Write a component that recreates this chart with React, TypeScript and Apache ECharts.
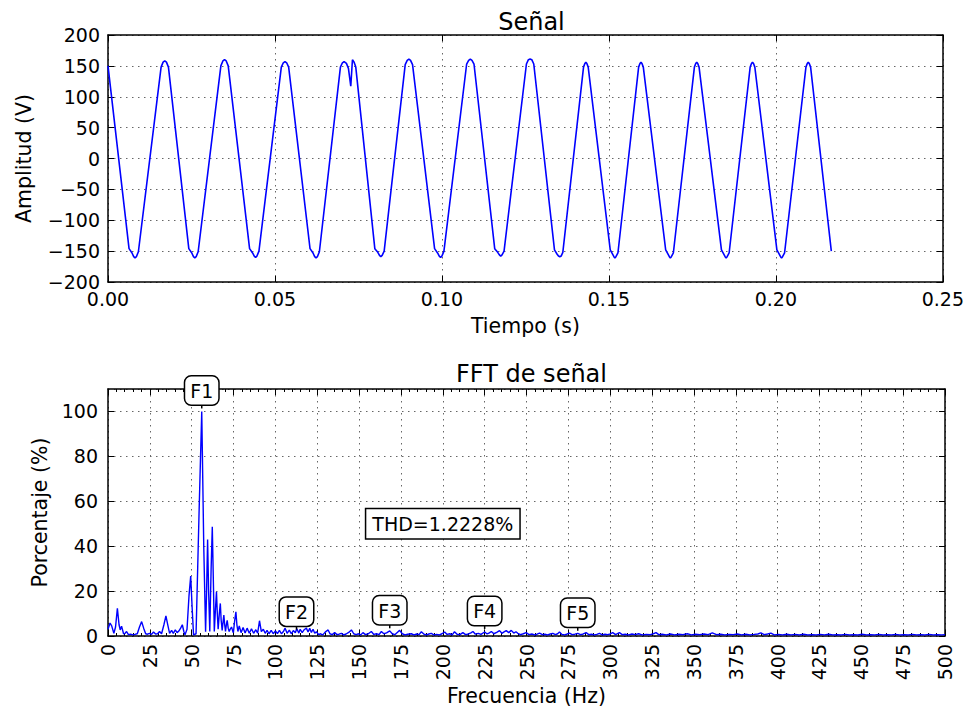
import { useEffect, useRef } from 'react';
import * as echarts from 'echarts';

const FONT = 'DejaVu Sans';

// ---- Top chart: signal (time s, amplitude V) ----
const signalPoints: [number, number][] = [
  [0.0, 150],
  [0.0063, -146], [0.0072, -153], [0.0077, -159], [0.0081, -161], [0.0085, -159], [0.0091, -151],
  [0.0159, 148], [0.0165, 156], [0.017, 158], [0.0175, 156], [0.0181, 148],
  [0.0242, -146], [0.0251, -153], [0.0256, -159], [0.026, -161], [0.0264, -159], [0.027, -151],
  [0.0338, 150], [0.0344, 158], [0.0349, 160], [0.0354, 158], [0.036, 150],
  [0.0424, -146], [0.0433, -153], [0.0438, -158], [0.0442, -160], [0.0446, -158], [0.0452, -150],
  [0.0519, 148], [0.0525, 155], [0.053, 157], [0.0535, 155], [0.0541, 148],
  [0.0605, -146], [0.0614, -153], [0.0619, -159], [0.0623, -161], [0.0627, -159], [0.0633, -151],
  [0.0696, 148], [0.0702, 155], [0.0707, 157], [0.0714, 154], [0.072, 146], [0.0727, 117], [0.0732, 160], [0.0737, 156], [0.0742, 148],
  [0.0799, -146], [0.0808, -152], [0.0813, -157], [0.0817, -159], [0.0821, -157], [0.0827, -150],
  [0.089, 152], [0.0896, 159], [0.0901, 161], [0.0906, 159], [0.0912, 152],
  [0.0978, -146], [0.0987, -153], [0.0992, -158], [0.0996, -160], [0.1, -158], [0.1006, -150],
  [0.1074, 153], [0.108, 159], [0.1085, 161], [0.109, 159], [0.1096, 153],
  [0.1158, -146], [0.1167, -152], [0.1172, -156], [0.1176, -158], [0.118, -156], [0.1186, -150],
  [0.1253, 153], [0.1259, 160], [0.1264, 161], [0.1269, 160], [0.1275, 153],
  [0.1337, -148], [0.1345, -155], [0.1349, -158], [0.1353, -159], [0.1357, -158], [0.1362, -152],
  [0.1424, 148], [0.1428, 154], [0.1431, 156], [0.1434, 154], [0.1438, 148],
  [0.1504, -148], [0.1511, -155], [0.1515, -159], [0.1518, -161], [0.1521, -159], [0.1527, -153],
  [0.1589, 148], [0.1593, 154], [0.1596, 156], [0.1599, 154], [0.1603, 148],
  [0.167, -148], [0.1677, -155], [0.1681, -159], [0.1684, -161], [0.1687, -159], [0.1693, -153],
  [0.1756, 148], [0.176, 154], [0.1763, 156], [0.1766, 154], [0.177, 148],
  [0.1837, -148], [0.1844, -155], [0.1848, -159], [0.1851, -161], [0.1854, -159], [0.186, -153],
  [0.1923, 148], [0.1927, 154], [0.193, 156], [0.1933, 154], [0.1937, 148],
  [0.2003, -148], [0.201, -155], [0.2014, -159], [0.2017, -161], [0.202, -159], [0.2026, -153],
  [0.209, 148], [0.2094, 154], [0.2097, 156], [0.21, 154], [0.2104, 148],
  [0.2166, -150],
];

// ---- Bottom chart: spectrum (Hz, %) ----
const spectrumPoints: [number, number][] = [
  [0, 3.0], [1.2, 5.8], [2.2, 4.5], [3.5, 1.2], [4.5, 4], [5.6, 12.3], [6.6, 5], [7.3, 2.7], [8.1, 4.4], [9.3, 1.0],
  [10.2, 1.2], [11.1, 2.0], [12.2, 0.6], [13.5, 0.8], [14.8, 0.5], [16.0, 0.7], [17.5, 1.0], [18.8, 4.0], [20.1, 6.4], [21.3, 3.5],
  [22.5, 1.0], [23.6, 0.8], [24.8, 1.2], [26.0, 0.7], [27.2, 1.8], [28.4, 0.9], [29.6, 1.0], [30.8, 2.0], [32.0, 1.0], [33.4, 5.0],
  [34.6, 9.0], [35.7, 5.0], [36.8, 1.2], [38.0, 2.5], [39.0, 1.2], [40.2, 2.7], [41.3, 1.5], [42.3, 2.2], [43.4, 3.5], [44.4, 5.0],
  [45.3, 2.0], [46.0, 0.5], [47.2, 3.0], [48.4, 18], [49.4, 26.7], [50.3, 12], [51.1, 0.5], [52.6, 1.0], [54.4, 55], [56.0, 100],
  [57.2, 40], [58.3, 1.9], [58.9, 20], [59.5, 43], [60.1, 20], [60.8, 2], [61.6, 30], [62.3, 48.6], [63.0, 22], [63.5, 2],
  [64.2, 12], [64.8, 19.7], [65.3, 10], [65.8, 3], [66.5, 10], [67.1, 14.5], [67.6, 7], [68.2, 2.5], [68.7, 6], [69.2, 9.3],
  [69.7, 5], [70.2, 2], [70.7, 5], [71.2, 7], [71.8, 3.5], [72.4, 2], [73.1, 3.2], [73.8, 4], [74.4, 2.5], [74.9, 1.5],
  [75.7, 7], [76.4, 10.8], [77.0, 5], [77.6, 2], [78.4, 4.5], [79.5, 1.5], [80.7, 3.8], [81.9, 1.3], [83.1, 3.5], [84.4, 1.2],
  [85.7, 3.2], [87.0, 1.2], [88.3, 2.8], [89.4, 1.3], [90.5, 6.8], [91.6, 2.0], [92.8, 3.0], [93.9, 1.2], [95.0, 2.5], [96.2, 1.0],
  [97.5, 2.5], [98.7, 1.0], [100.0, 2.2], [101.2, 1.1], [102.4, 2.5], [103.6, 1.0], [104.8, 2.0], [105.8, 3.5], [107.0, 1.2], [108.3, 2.6],
  [109.5, 1.0], [110.7, 2.4], [111.9, 1.5], [112.8, 3.2], [114.0, 1.3], [114.8, 3.0], [116.0, 1.5], [117.2, 2.8], [118.5, 3.5], [119.5, 1.8],
  [120.5, 3.4], [121.5, 1.6], [122.5, 3.0], [123.5, 1.2], [124.5, 1.9], [125.8, 0.6], [127.0, 1.0], [128.3, 0.5], [129.5, 1.5], [130.5, 2.2],
  [131.5, 2.7], [132.6, 1.0], [134.0, 0.6], [135.4, 1.5], [136.8, 0.6], [138.0, 0.8], [139.4, 1.2], [140.8, 0.5], [142.2, 0.9], [143.8, 1.6],
  [145.4, 2.7], [146.8, 1.0], [148.2, 0.6], [149.7, 1.0], [151.0, 0.5], [152.3, 1.5], [153.8, 0.6], [155.5, 1.0], [157.3, 2.0], [158.8, 0.7],
  [160.4, 1.0], [161.9, 0.6], [163.3, 2.0], [164.8, 1.0], [166.4, 1.4], [168.3, 2.3], [169.8, 1.0], [171.3, 0.6], [172.8, 1.6], [174.2, 2.5],
  [175.8, 1.0], [177.4, 0.5], [179.0, 0.8], [181.2, 1.0], [182.8, 0.5], [184.4, 0.9], [185.8, 0.6], [187.2, 1.9], [188.8, 0.8], [190.3, 0.5],
  [191.7, 0.9], [193.1, 1.2], [194.7, 0.5], [196.3, 0.7], [198.0, 0.5], [199.5, 1.0], [201.1, 1.8], [202.6, 0.7], [204.2, 1.0], [205.6, 0.5],
  [207.0, 1.9], [208.5, 0.8], [210.2, 0.6], [212.0, 1.5], [213.6, 0.6], [215.3, 0.9], [216.8, 1.4], [218.0, 2.0], [219.5, 0.8], [221.2, 1.2],
  [222.8, 0.7], [225.0, 1.8], [226.5, 0.9], [227.8, 1.4], [229.0, 2.0], [230.5, 1.0], [232.2, 1.6], [233.9, 2.4], [235.3, 1.2], [236.6, 1.8],
  [237.9, 2.4], [239.4, 1.5], [240.9, 2.5], [242.4, 1.3], [243.7, 1.9], [244.8, 1.2], [246.4, 0.6], [248.1, 1.0], [249.8, 1.5], [251.5, 0.6],
  [253.2, 0.9], [254.8, 0.5], [256.3, 0.8], [257.8, 1.3], [259.5, 0.6], [261.0, 0.8], [262.6, 0.5], [264.2, 0.9], [265.7, 1.2], [267.3, 0.6],
  [268.6, 1.0], [269.7, 1.8], [271.2, 0.7], [272.8, 0.5], [274.3, 0.9], [275.7, 1.3], [277.3, 0.6], [278.9, 0.8], [280.6, 1.2], [282.3, 0.6],
  [283.9, 0.9], [285.6, 1.5], [287.2, 0.6], [288.8, 0.8], [290.5, 0.5], [292.0, 0.7], [293.6, 1.2], [295.3, 0.5], [296.9, 0.8], [298.5, 0.6],
  [300.0, 0.9], [301.5, 1.5], [303.2, 0.6], [305.5, 1.5], [307.2, 0.6], [309.0, 0.8], [311.0, 0.5], [313.0, 0.9], [315.0, 0.6], [317.0, 1.0],
  [319.0, 0.5], [321.5, 0.7], [324.0, 0.6], [325.8, 1.0], [327.4, 1.5], [329.0, 0.6], [331.0, 0.8], [333.5, 0.5], [336.0, 0.9], [338.5, 0.5],
  [341.0, 0.8], [343.5, 0.6], [346.0, 1.0], [348.5, 0.5], [351.0, 0.8], [353.5, 0.6], [356.0, 0.9], [358.5, 0.6], [361.0, 1.4], [363.5, 0.6],
  [366.0, 0.8], [368.5, 0.5], [371.0, 0.7], [373.5, 0.6], [376.0, 0.9], [378.5, 0.5], [381.0, 0.8], [383.5, 0.5], [386.0, 0.7], [388.2, 0.9],
  [390.0, 1.4], [392.0, 0.6], [394.0, 0.9], [396.0, 1.3], [398.0, 0.5], [400.5, 0.7], [403.0, 0.5], [405.5, 0.8], [408.0, 0.5], [410.5, 0.7],
  [413.0, 0.5], [415.5, 0.8], [418.0, 0.5], [420.5, 0.6], [423.0, 0.5], [425.5, 0.7], [428.0, 0.5], [430.5, 0.8], [433.0, 0.5], [435.5, 0.6],
  [438.0, 0.5], [440.5, 0.7], [443.0, 0.5], [445.5, 0.6], [448.0, 0.5], [450.5, 0.8], [453.0, 0.5], [455.5, 0.6], [458.0, 0.5], [460.5, 0.7],
  [463.0, 0.5], [465.5, 0.6], [468.0, 0.5], [470.5, 0.7], [473.0, 0.5], [475.5, 0.6], [478.0, 0.5], [480.5, 0.7], [483.0, 0.5], [485.5, 0.6],
  [488.0, 0.5], [490.5, 0.7], [493.0, 0.5], [495.5, 0.6], [498.0, 0.5], [500, 0.6],
];

const harmonicNames = ['F1', 'F2', 'F3', 'F4', 'F5'];
const harmonicFreqs = [56, 112.6, 168.3, 225, 280.6];
const harmonicPcts = [100, 1.5, 2.1, 1.8, 1.0];

const thdLabel = 'THD=1.2228%';
const thdCoord = [200, 50];

const titles = ['Señal', 'FFT de señal'];
const axisNames = { time: 'Tiempo (s)', amp: 'Amplitud (V)', freq: 'Frecuencia (Hz)', pct: 'Porcentaje (%)' };

const timeRange = { min: 0, max: 0.25, interval: 0.05 };
const ampRange = { min: -200, max: 200, interval: 50 };
const freqRange = { min: 0, max: 500, interval: 25 };
const pctRange = { min: 0, max: 110, interval: 20 };

const minusFmt = (v: number) => String(v).replace('-', '\u2212');

export default function App() {
  const ref = useRef<HTMLDivElement>(null);

  useEffect(() => {
    if (!ref.current) return;
    const chart = echarts.init(ref.current, undefined, { renderer: 'svg' });

    const txt = { color: '#000', fontFamily: FONT, fontSize: 19 };
    const nameTxt = { color: '#000', fontFamily: FONT, fontSize: 20.5 };
    const frameLine = { show: true, onZero: false, lineStyle: { color: '#000', width: 1.5 } };
    const gridLine = { show: true, lineStyle: { color: '#666', width: 1, type: [1.5, 4.5] as any } };
    const tickIn = { show: true, inside: true, length: 6, lineStyle: { color: '#000', width: 1 } };
    const minorIn = { show: true, splitNumber: 5, length: 3, lineStyle: { color: '#000', width: 1 } };

    const grids = [
      { left: 108, top: 35, width: 837, height: 247, containLabel: false },
      { left: 108, top: 389, width: 837, height: 247, containLabel: false },
    ];

    const mainX = (gridIndex: number, r: any, extra: any) => ({
      type: 'value', gridIndex, position: 'bottom', ...r,
      axisLine: frameLine, axisTick: tickIn, splitLine: gridLine,
      nameTextStyle: nameTxt,
      nameLocation: 'middle',
      ...extra,
    });
    const sideX = (gridIndex: number, r: any, minor: boolean) => ({
      type: 'value', gridIndex, position: 'top', ...r,
      axisLine: frameLine, axisTick: tickIn, splitLine: { show: false },
      axisLabel: { show: false },
      minorTick: minor ? minorIn : { show: false },
    });
    const sideY = (gridIndex: number, r: any) => ({
      type: 'value', gridIndex, position: 'right', ...r,
      axisLine: frameLine, axisTick: tickIn, splitLine: { show: false },
      axisLabel: { show: false },
    });

    const option: any = {
      animation: false,
      backgroundColor: '#fff',
      title: [
        { text: titles[0], left: 526.5, top: 5, textAlign: 'center', textStyle: { ...txt, fontSize: 24, fontWeight: 'normal' } },
        { text: titles[1], left: 526.5, top: 357, textAlign: 'center', textStyle: { ...txt, fontSize: 24, fontWeight: 'normal' } },
      ],
      grid: grids,
      xAxis: [
        mainX(0, timeRange, {
          name: axisNames.time, nameGap: 33,
          axisLabel: { ...txt, margin: 7, showMaxLabel: true, showMinLabel: true, formatter: (v: number) => v.toFixed(2) },
        }),
        mainX(1, freqRange, {
          name: axisNames.freq, nameGap: 49,
          minorTick: minorIn,
          axisLabel: { ...txt, margin: 8, rotate: 90, showMaxLabel: true, showMinLabel: true },
        }),
        sideX(0, timeRange, false),
        sideX(1, freqRange, true),
      ],
      yAxis: [
        {
          type: 'value', gridIndex: 0, position: 'left', ...ampRange,
          axisLine: frameLine, axisTick: tickIn, splitLine: gridLine,
          axisLabel: { ...txt, margin: 8, showMaxLabel: true, showMinLabel: true, formatter: minusFmt },
          name: axisNames.amp, nameLocation: 'middle', nameGap: 74, nameTextStyle: nameTxt,
        },
        {
          type: 'value', gridIndex: 1, position: 'left', ...pctRange,
          axisLine: frameLine, axisTick: tickIn, splitLine: gridLine,
          axisLabel: { ...txt, margin: 10, showMaxLabel: false, showMinLabel: true },
          name: axisNames.pct, nameLocation: 'middle', nameGap: 56, nameTextStyle: nameTxt,
        },
        sideY(0, ampRange),
        sideY(1, pctRange),
      ],
      series: [
        {
          type: 'line', xAxisIndex: 0, yAxisIndex: 0, data: signalPoints,
          showSymbol: false, symbol: 'none', lineStyle: { color: '#0000ff', width: 1.6 }, itemStyle: { color: '#0000ff' },
          silent: true,
        },
        {
          type: 'line', xAxisIndex: 1, yAxisIndex: 1, data: spectrumPoints,
          showSymbol: false, symbol: 'none', lineStyle: { color: '#0000ff', width: 1.4 }, itemStyle: { color: '#0000ff' },
          silent: true,
          markPoint: {
            silent: true,
            animation: false,
            data: [
              ...harmonicNames.map((n, i) => ({
                name: n,
                coord: [harmonicFreqs[i], harmonicPcts[i]],
                symbol: 'rect',
                symbolSize: [1.5, 4],
                symbolOffset: [0, -5],
                itemStyle: { color: '#000' },
                label: {
                  show: true, position: 'top', distance: 0, formatter: n,
                  ...txt, backgroundColor: '#fff', borderColor: '#000', borderWidth: 1.5,
                  borderRadius: 6, padding: [4, 5, 3, 5], lineHeight: 21,
                },
              })),
              {
                name: 'THD',
                coord: thdCoord,
                symbol: 'rect',
                symbolSize: 1,
                itemStyle: { color: 'rgba(0,0,0,0)' },
                label: {
                  show: true, position: 'inside', formatter: thdLabel,
                  ...txt, backgroundColor: '#fff', borderColor: '#000', borderWidth: 1.5,
                  borderRadius: 0, padding: [4, 6, 4, 6], lineHeight: 21,
                },
              },
            ],
          },
        },
      ],
    };

    chart.setOption(option);
    return () => chart.dispose();
  }, []);

  return <div ref={ref} style={{ position: 'absolute', left: 0, top: 0, width: 967, height: 715, background: '#fff' }} />;
}
